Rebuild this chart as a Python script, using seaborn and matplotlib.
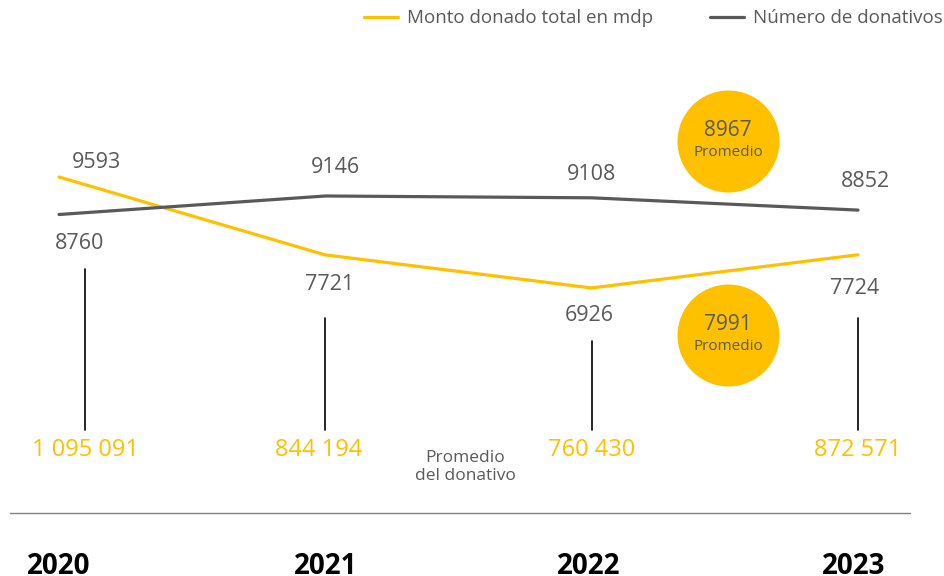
import matplotlib.pyplot as plt
import seaborn as sns
import pandas as pd
import numpy as np
from matplotlib.transforms import blended_transform_factory

years = ["2020", "2021", "2022", "2023"]
monto = [9593, 7721, 6926, 7724]          # Monto donado total en mdp
donativos = [8760, 9146, 9108, 8852]      # Número de donativos
promedio = [1095091, 844194, 760430, 872571]  # Promedio del donativo

YEL = "#FFC000"
GRAY = "#595959"
W, H = 944, 576

sns.set_theme(style="white")
plt.rcParams['font.family'] = ['Open Sans', 'DejaVu Sans']

df = pd.DataFrame({"idx": range(len(years)), "monto": monto, "donativos": donativos})

fig = plt.figure(figsize=(W / 100, H / 100), dpi=100)
ax = fig.add_axes([0, 0, 1, 1])
ax2 = ax.twinx()

sns.lineplot(data=df, x="idx", y="monto", ax=ax, color=YEL, lw=2.3, label="Monto donado total en mdp", legend=False)
sns.lineplot(data=df, x="idx", y="donativos", ax=ax2, color=GRAY, lw=2.3, label="Número de donativos", legend=False)

# map index 0 -> 59px, 3 -> 858px
ax.set_xlim(-0.2215, 3.3229)
ax.set_ylim(2, 13848)
ax2.set_ylim(1229, 13229)
for a in (ax, ax2):
    a.axis("off")

# value labels (offsets in pixels, downward positive)
off_monto = [(38, -15), (4, 30), (-2, 28), (-3, 34)]
off_don = [(21, 29), (10, -28), (0, -23), (7, -29)]
for i in range(len(years)):
    ax.annotate(str(monto[i]), xy=(i, monto[i]), xytext=(off_monto[i][0], -off_monto[i][1]),
                textcoords="offset pixels", ha="center", va="center", fontsize=15.5, color=GRAY)
    ax2.annotate(str(donativos[i]), xy=(i, donativos[i]), xytext=(off_don[i][0], -off_don[i][1]),
                 textcoords="offset pixels", ha="center", va="center", fontsize=15.5, color=GRAY)

trans = blended_transform_factory(ax.transData, ax.transAxes)
line_x = [0.098, 0, 0, 0]
line_top = [269, 318, 341, 318]
value_x = [0.098, -0.026, 0, 0]
year_x = [0, 0, -0.01, -0.018]
for i in range(len(years)):
    x = i + line_x[i]
    ax.plot([x, x], [1 - 430 / H, 1 - line_top[i] / H], transform=trans, color="black", lw=1.2)
    ax.text(i + value_x[i], 1 - 450 / H, f"{promedio[i]:,}".replace(",", " "), transform=trans,
            ha="center", va="center", fontsize=17, color=YEL)
    ax.text(i + year_x[i], 1 - 552 / H, years[i], transform=trans, ha="center", va="top",
            fontsize=20, fontweight="bold", color="black")

fig.text(465 / W, 1 - 467 / H, "Promedio\ndel donativo", ha="center", va="center",
         fontsize=12.5, color=GRAY, linespacing=1.1)

# separator line
ax.plot([10 / W, 910 / W], [1 - 513 / H, 1 - 513 / H], transform=ax.transAxes, color="#808080", lw=1)

# average circles
avg_don = int(np.floor(np.mean(donativos) + 0.5))
avg_monto = int(np.floor(np.mean(monto) + 0.5))
for cy, val in [(141, avg_don), (335, avg_monto)]:
    ax2.scatter([728 / W], [1 - cy / H], s=5393, color=YEL, transform=ax2.transAxes, zorder=5, linewidths=0)
    ax2.text(728 / W, 1 - (cy - 10) / H, str(val), transform=ax2.transAxes, ha="center", va="center",
             fontsize=15, color=GRAY, zorder=6)
    ax2.text(728 / W, 1 - (cy + 11) / H, "Promedio", transform=ax2.transAxes, ha="center", va="center",
             fontsize=11, color=GRAY, zorder=6)

handles = [ax.get_lines()[0], ax2.get_lines()[0]]
leg = fig.legend(handles, ["Monto donado total en mdp", "Número de donativos"], loc="upper right",
                 bbox_to_anchor=(1.0 + 8 / W, 1.0), ncol=2, frameon=False, fontsize=13.5,
                 handlelength=1.8, handletextpad=0.5, columnspacing=3.0,
                 borderaxespad=0.3, borderpad=0.2)
for t in leg.get_texts():
    t.set_color(GRAY)

fig.savefig("out.png", dpi=100)
